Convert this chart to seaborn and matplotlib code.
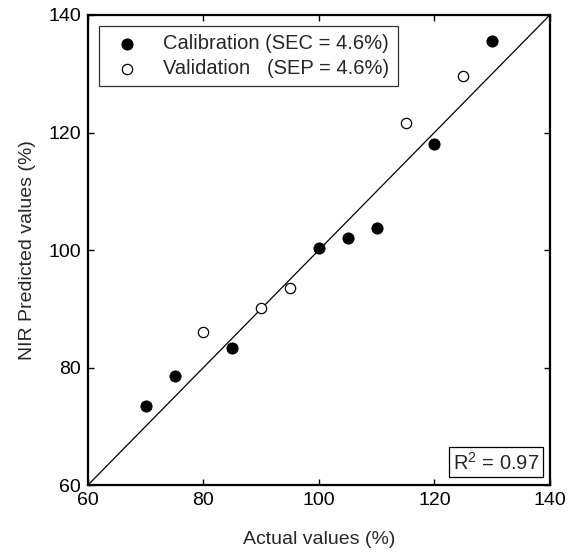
import matplotlib
matplotlib.use("Agg")
import matplotlib.pyplot as plt
import seaborn as sns

# valeurs
cal_actual = [70, 75, 85, 100, 105, 110, 120, 130]
cal_pred = [73.4, 78.5, 83.4, 100.3, 102.0, 103.8, 118.0, 135.6]
val_actual = [80, 90, 95, 115, 125]
val_pred = [86.1, 90.2, 93.5, 121.7, 129.7]

ticks = [60, 80, 100, 120, 140]
cal_label = "Calibration (SEC = 4.6%)"
val_label = "Validation   (SEP = 4.6%)"
r2_text = "R$^2$ = 0.97"

sns.set_theme(style="ticks")
plt.rcParams['font.family'] = ['Liberation Sans', 'DejaVu Sans']
plt.rcParams['mathtext.fontset'] = 'custom'
plt.rcParams['mathtext.rm'] = 'Liberation Sans'

fig = plt.figure(figsize=(5.71, 5.55), dpi=100)
ax = fig.add_axes([0.154, 0.126, 0.809, 0.847])

# droite 1:1
ax.plot([60, 140], [60, 140], color="black", lw=0.9, zorder=1)

sns.scatterplot(x=cal_actual, y=cal_pred, ax=ax, color="black", edgecolor="black",
                s=65, marker="o", label=cal_label, zorder=3)
sns.scatterplot(x=val_actual, y=val_pred, ax=ax, facecolor="white", edgecolor="black",
                linewidth=0.9, s=55, marker="o", label=val_label, zorder=3)

ax.set_xlim(60, 140)
ax.set_ylim(60, 140)
ax.set_xticks(ticks)
ax.set_yticks(ticks)
ax.tick_params(direction="in", length=4, width=1, labelsize=14, colors="black",
               top=True, right=True, pad=5)
for s in ax.spines.values():
    s.set_linewidth(1.6)
    s.set_color("black")

ax.set_xlabel("Actual values (%)", fontsize=14, labelpad=16)
ax.set_ylabel("NIR Predicted values (%)", fontsize=14, labelpad=9)

leg = ax.legend(loc="upper left", fontsize=14.5, frameon=True, fancybox=False,
                edgecolor="black", borderpad=0.4, handletextpad=0.8,
                labelspacing=0.3, borderaxespad=0.55, handlelength=2.0)
leg.get_frame().set_linewidth(0.9)

ax.text(0.977, 0.025, r2_text, transform=ax.transAxes, ha="right", va="bottom",
        fontsize=14.5,
        bbox=dict(boxstyle="square,pad=0.2", facecolor="white", edgecolor="black", lw=0.9))

plt.savefig("out.png", dpi=100)
